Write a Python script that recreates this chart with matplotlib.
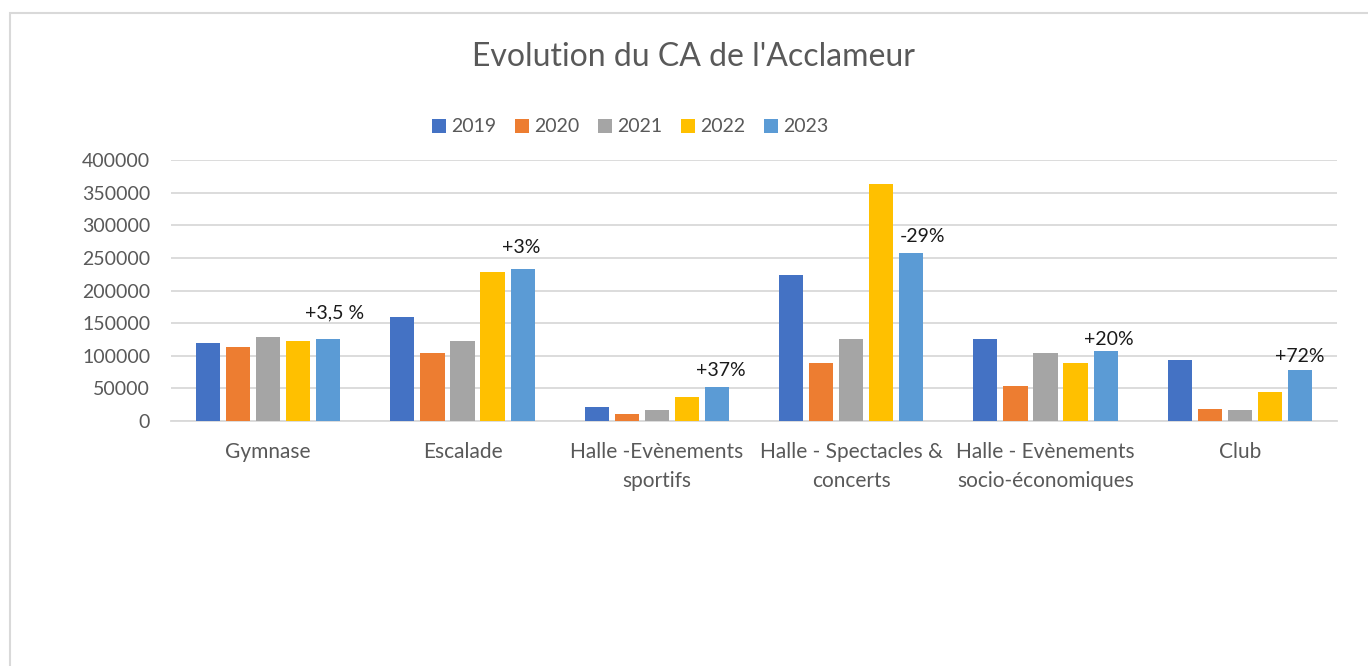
import numpy as np
import matplotlib.pyplot as plt
from matplotlib.patches import Rectangle

plt.rcParams['font.family'] = ['Lato', 'DejaVu Sans']

# data
categories = ["Gymnase", "Escalade", "Halle -Evènements\nsportifs",
              "Halle - Spectacles &\nconcerts", "Halle - Evènements\nsocio-économiques", "Club"]
years = ["2019", "2020", "2021", "2022", "2023"]
ca_2019 = [119000, 159500, 21000, 224000, 126400, 93100]
ca_2020 = [113000, 103800, 11300, 89600, 54300, 19000]
ca_2021 = [128000, 122200, 17400, 126400, 103800, 17500]
ca_2022 = [122200, 227600, 37400, 363000, 89600, 45100]
ca_2023 = [126400, 233700, 52200, 257200, 108000, 78200]
evolution_labels = ["+3,5 %", "+3%", "+37%", "-29%", "+20%", "+72%"]

series = [ca_2019, ca_2020, ca_2021, ca_2022, ca_2023]
colors = ['#4472C4', '#ED7D31', '#A5A5A5', '#FFC000', '#5B9BD5']
# manual label offsets in pixels (dx, dy) from the top of the 2023 bar
label_offsets = [(6, 26), (-1, 21), (4, 16), (11, 17), (3, 11), (0, 13)]

fig = plt.figure(figsize=(13.68, 6.66), dpi=100)
ax = fig.add_axes([171 / 1368, 1 - 421 / 666, (1337 - 171) / 1368, (421 - 160) / 666])

x = np.arange(len(categories))
step = 0.1545
width = 0.124
for i, (vals, col, yr) in enumerate(zip(series, colors, years)):
    ax.bar(x + (i - 2) * step, vals, width, color=col, label=yr, zorder=3)

for j, (lab, (dx, dy)) in enumerate(zip(evolution_labels, label_offsets)):
    ax.annotate(lab, xy=(x[j] + 2 * step, ca_2023[j]), xytext=(dx, dy),
                textcoords='offset pixels', ha='center', va='center',
                fontsize=14, color='#1a1a1a', zorder=4)

ax.set_xlim(-0.5, len(categories) - 0.5)
ax.set_ylim(0, 400000)
ax.set_yticks(np.arange(0, 400001, 50000))
ax.set_yticklabels([str(v) for v in range(0, 400001, 50000)])
ax.set_xticks(x)
ax.set_xticklabels(categories, linespacing=1.58)
ax.tick_params(axis='y', length=0, pad=15, labelsize=14, labelcolor='#595959')
ax.tick_params(axis='x', length=0, pad=15, labelsize=15, labelcolor='#595959')
ax.grid(axis='y', color='#D9D9D9', linewidth=1.3, zorder=0)
for s in ['top', 'right', 'left']:
    ax.spines[s].set_visible(False)
ax.spines['bottom'].set_color('#D9D9D9')
ax.spines['bottom'].set_linewidth(1.3)

fig.text(694 / 1368, 1 - 57 / 666, "Evolution du CA de l'Acclameur", ha='center', va='center',
         fontsize=23, color='#595959')

fig.legend(loc='center', bbox_to_anchor=(630 / 1368, 1 - 127 / 666), ncol=5, frameon=False,
           fontsize=14, labelcolor='#595959', handlelength=0.75, handleheight=0.75,
           handletextpad=0.25, columnspacing=0.95)

# chart area border
fig.add_artist(Rectangle((10 / 1368, -0.1), 1.0, 1 - 13 / 666 + 0.1, transform=fig.transFigure,
                         fill=False, edgecolor='#D9D9D9', linewidth=1.5))

fig.savefig('out.png', dpi=100)
